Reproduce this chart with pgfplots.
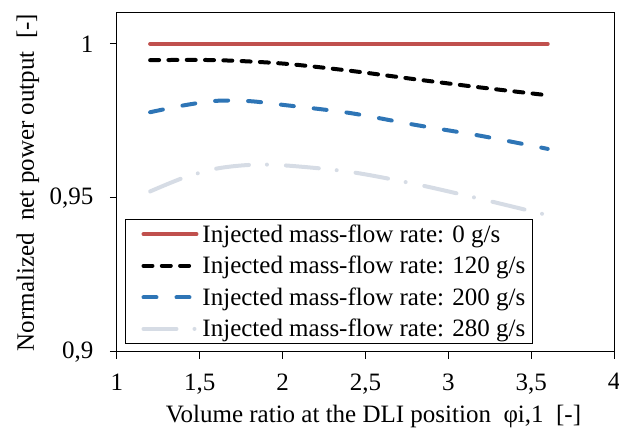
\documentclass[border=0pt]{standalone}
\usepackage{pgfplots}
\pgfplotsset{compat=1.18}
\usepackage{fontspec}
\setmainfont{Liberation Serif}
\definecolor{cred}{RGB}{192,80,77}
\definecolor{cblue}{RGB}{46,117,182}
\definecolor{cgray}{RGB}{214,220,229}
\begin{document}
\begin{tikzpicture}
\begin{axis}[name=ax, scale only axis, width=497pt, height=339pt,
  xmin=1, xmax=4, ymin=0.9, ymax=1.01,
  xtick={1,1.5,2,2.5,3,3.5,4}, ytick={0.9,0.95,1},
  tick align=outside, xtick pos=bottom, ytick pos=left, major tick length=7pt,
  tick style={black, line width=1pt},
  axis line style={line width=1pt},
  /pgf/number format/assume math mode=true,
  /pgf/number format/use comma,
  /pgf/number format/fixed,
  /pgf/number format/precision=2,
  font=\fontsize{25}{30}\selectfont,
  yticklabel shift=13pt,
  xticklabel style={yshift=-11pt},
  xlabel={Volume ratio at the DLI position\ \ φi,1\ \ [-]},
  ylabel={Normalized\ \ net power output\ \ [-]},
  xlabel style={at={(axis description cs:0.516,-0.2094)}, anchor=base},
  ylabel style={at={(axis description cs:-0.167,0.5)}, anchor=base},
  legend style={at={(0.0161,0.0236)}, anchor=south west, draw=black, line width=1pt,
    font=\fontsize{25}{30}\selectfont, row sep=8.5pt, inner xsep=3pt, inner ysep=3pt,
    nodes={inner xsep=4pt}},
  legend cell align=left,
  legend image code/.code={\path (-13pt,0pt); \draw[#1] (0pt,0pt) -- (53pt,0pt);},
]
\addplot[cred, line width=4pt, line cap=round] coordinates {(1.2,1) (3.6,1)};
\addlegendentry{Injected mass-flow rate: 0 g/s}
\addplot[black, line width=4pt, line cap=round, smooth, dash pattern=on 9pt off 9.3pt] coordinates {
(1.2,0.9947) (1.6,0.9947) (2.0,0.9936) (2.4,0.9913) (2.8,0.9885) (3.2,0.9858) (3.6,0.9833)};
\addlegendentry{Injected mass-flow rate: 120 g/s}
\addplot[cblue, line width=4pt, line cap=round, smooth, dash pattern=on 13pt off 20pt] coordinates {
(1.2,0.9778) (1.4,0.9800) (1.6,0.9815) (1.8,0.9814) (2.0,0.9802) (2.4,0.9776) (2.8,0.9737) (3.2,0.9701) (3.6,0.9659)};
\addlegendentry{Injected mass-flow rate: 200 g/s}
\addplot[cgray, line width=4pt, line cap=round, smooth, dash pattern=on 33pt off 18pt on 0pt off 19pt] coordinates {
(1.2,0.9521) (1.4,0.9565) (1.6,0.9595) (1.8,0.9607) (2.0,0.9606) (2.4,0.9585) (2.8,0.9545) (3.2,0.9496) (3.6,0.9444)};
\addlegendentry{Injected mass-flow rate: 280 g/s}
\end{axis}
\pgfresetboundingbox
\path[use as bounding box] ([xshift=-117pt,yshift=-79pt]ax.south west) rectangle ([xshift=5pt,yshift=13pt]ax.north east);
\end{tikzpicture}
\end{document}
